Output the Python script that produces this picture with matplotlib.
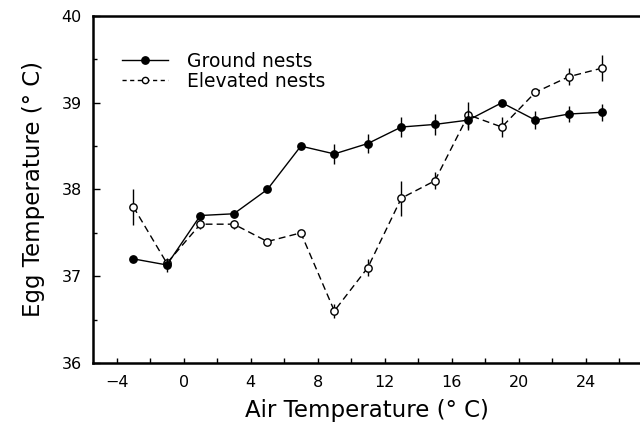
import numpy as np
import matplotlib
matplotlib.use('Agg')
import matplotlib.pyplot as plt
from matplotlib.ticker import MultipleLocator
from matplotlib.lines import Line2D

# air temperature classes (deg C)
air_temp = [-3, -1, 1, 3, 5, 7, 9, 11, 13, 15, 17, 19, 21, 23, 25]

# ground nests: mean egg temperature and error
ground_mean = [37.2, 37.13, 37.7, 37.72, 38.0, 38.5, 38.41, 38.53, 38.72, 38.75, 38.8, 39.0, 38.8, 38.87, 38.89]
ground_err = [0.0, 0.085, 0.04, 0.04, 0.0, 0.0, 0.115, 0.115, 0.12, 0.12, 0.12, 0.0, 0.1, 0.09, 0.1]

# elevated nests
elev_mean = [37.8, 37.15, 37.6, 37.6, 37.4, 37.5, 36.6, 37.1, 37.9, 38.1, 38.86, 38.72, 39.12, 39.3, 39.4]
elev_err = [0.21, 0.05, 0.05, 0.05, 0.0, 0.0, 0.08, 0.1, 0.2, 0.1, 0.15, 0.12, 0.03, 0.1, 0.15]

plt.rcParams['font.family'] = 'DejaVu Sans'

fig = plt.figure(figsize=(6.4, 4.24), dpi=100)
ax = fig.add_axes([0.1453, 0.1439, 0.8547, 0.8184])

ax.errorbar(air_temp, ground_mean, yerr=ground_err, fmt='-o', color='black',
            markersize=5.3, markerfacecolor='black', markeredgecolor='black',
            linewidth=1.0, elinewidth=1.0, capsize=0, zorder=4)
ax.errorbar(air_temp, elev_mean, yerr=elev_err, fmt='--o', color='black',
            markersize=5.3, markerfacecolor='white', markeredgecolor='black',
            markeredgewidth=1.0, linewidth=1.0, elinewidth=1.0, capsize=0,
            dashes=(5, 3), zorder=3)

ax.set_xlim(-5.41, 27.25)
ax.set_ylim(36, 40)
ax.xaxis.set_minor_locator(MultipleLocator(2))
ax.yaxis.set_major_locator(MultipleLocator(1))
ax.yaxis.set_minor_locator(MultipleLocator(0.5))
ax.set_xticks(np.arange(-4, 25, 4))
ax.set_xticklabels(['\u22124', '0', '4', '8', '12', '16', '20', '24'])

ax.tick_params(axis='both', which='both', direction='in', labelsize=11.5,
               top=False, right=False, width=1.0)
ax.tick_params(axis='y', which='major', length=5, pad=8)
ax.tick_params(axis='y', which='minor', length=3)
ax.tick_params(axis='x', which='both', length=3.5, pad=9)

for s in ['left', 'bottom', 'top']:
    ax.spines[s].set_linewidth(1.8)
ax.spines['right'].set_visible(False)

ax.set_xlabel('Air Temperature (\u00b0 C)', fontsize=16.5, labelpad=6)
ax.set_ylabel('Egg Temperature (\u00b0 C)', fontsize=16.5, labelpad=12)

# legend handles without the error bars
h_ground = Line2D([], [], color='black', linestyle='-', linewidth=1.0, marker='o',
                  markersize=5.3, markerfacecolor='black')
h_elev = Line2D([], [], color='black', linestyle='--', dashes=(3, 2.5), linewidth=1.0,
                marker='o', markersize=4.5, markerfacecolor='white')
ax.legend([h_ground, h_elev], ['Ground nests', 'Elevated nests'],
          loc='center left', bbox_to_anchor=(0.053, 0.841), frameon=False,
          fontsize=13.5, handlelength=2.45, handletextpad=1.0, labelspacing=0.05,
          borderpad=0, borderaxespad=0)

fig.savefig('out.png', dpi=100)
